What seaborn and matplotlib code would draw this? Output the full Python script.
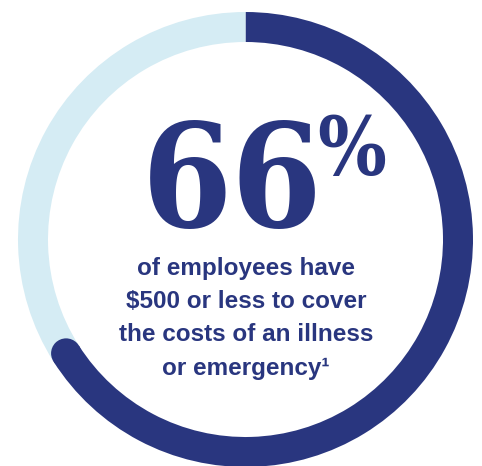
import numpy as np
import matplotlib
matplotlib.use("Agg")
import matplotlib.pyplot as plt
import seaborn as sns

# ---- data ----
labels = ["$500 or less", "More than $500"]
shares = [66, 34]
headline = "66"
body_lines = ["of employees have", "$500 or less to cover", "the costs of an illness", "or emergency\u00b9"]

DARK = "#29367f"
LIGHT = "#d5ecf4"

sns.set_theme(style="white")
plt.rcParams["font.family"] = ["Liberation Sans", "DejaVu Sans"]

W, H = 482, 466
fig = plt.figure(figsize=(W / 100, H / 100), dpi=100)
ax = fig.add_axes([0, 0, 1, 1])

cx, cy_px = 245.5, 239.5
cy = H - cy_px
R, width = 227.5, 30

ax.pie(shares, colors=[DARK, LIGHT], startangle=90, counterclock=False,
       radius=R, center=(cx, cy),
       wedgeprops=dict(width=width, linewidth=0, antialiased=True))

# rounded cap at the end of the main arc
end_deg = 90 - 360 * shares[0] / sum(shares)
rm = R - width / 2
ex = cx + rm * np.cos(np.radians(end_deg))
ey = cy + rm * np.sin(np.radians(end_deg))
ax.add_patch(plt.Circle((ex, ey), width / 2, color=DARK, lw=0, zorder=3))

ax.set_xlim(0, W)
ax.set_ylim(0, H)
ax.set_aspect("equal")
ax.axis("off")

def Y(px):
    return H - px

ax.text(232, Y(227), headline, ha="center", va="baseline",
        fontsize=104, fontweight="bold", family=["DejaVu Serif"], fontstretch="condensed",
        color=DARK)
ax.text(352, Y(175), "%", ha="center", va="baseline",
        fontsize=58, fontweight="bold", family=["DejaVu Serif"], fontstretch="condensed",
        color=DARK)

baselines = [275, 308, 341, 375]
for line, b in zip(body_lines, baselines):
    ax.text(246, Y(b), line, ha="center", va="baseline", fontsize=17.5,
            fontweight="bold", color=DARK)

fig.savefig("out.png", dpi=100, facecolor="white")
